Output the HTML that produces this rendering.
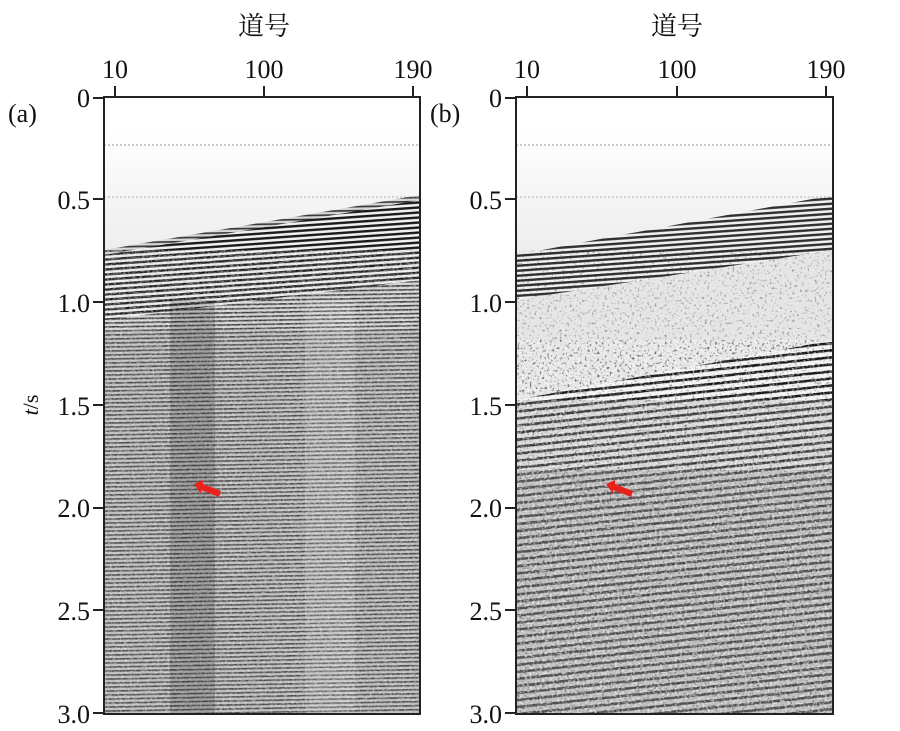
<!DOCTYPE html>
<html><head><meta charset="utf-8"><style>
body{margin:0;background:#fff;width:900px;height:731px;overflow:hidden}
svg{position:absolute;left:0;top:0}
text{font-family:"Liberation Serif","Noto Serif CJK SC",serif;fill:#111}
</style></head><body>
<svg width="900" height="731" viewBox="0 0 900 731">
<defs>
<linearGradient id="fade" x1="0" y1="0" x2="0" y2="1"><stop offset="0" stop-color="#fff"/><stop offset="1" stop-color="#ececec"/></linearGradient>
<pattern id="stA" width="12" height="5" patternUnits="userSpaceOnUse" patternTransform="rotate(-4)">
<rect width="12" height="5" fill="#f0f0f0"/><rect y="0" width="12" height="2.4" fill="#1a1a1a"/></pattern>
<pattern id="stB" width="10" height="4" patternUnits="userSpaceOnUse" patternTransform="rotate(-1)">
<rect width="10" height="4" fill="#d8d8d8"/><rect y="0" width="10" height="1.7" fill="#3a3a3a"/></pattern>
<pattern id="stC" width="9" height="7" patternUnits="userSpaceOnUse" patternTransform="rotate(-6)">
<rect width="9" height="7" fill="#f4f4f4"/><rect y="0" width="9" height="2.6" fill="#1a1a1a"/></pattern>
<filter id="nz" x="0" y="0" width="100%" height="100%">
<feTurbulence type="fractalNoise" baseFrequency="0.3 0.8" numOctaves="2" seed="3"/>
<feColorMatrix type="matrix" values="0 0 0 0 0.5 0 0 0 0 0.5 0 0 0 0 0.5 0 0 0 3 -1.3"/>
</filter>
<filter id="nzW" x="0" y="0" width="100%" height="100%">
<feTurbulence type="fractalNoise" baseFrequency="0.4 0.4" numOctaves="2" seed="7"/>
<feColorMatrix type="matrix" values="0 0 0 0 1 0 0 0 0 1 0 0 0 0 1 0 0 0 4 -1.9"/>
</filter>
<filter id="nzD" x="0" y="0" width="100%" height="100%">
<feTurbulence type="fractalNoise" baseFrequency="0.4 0.4" numOctaves="2" seed="11"/>
<feColorMatrix type="matrix" values="0 0 0 0 0 0 0 0 0 0 0 0 0 0 0 0 0 0 4 -2.3"/>
</filter>
<clipPath id="ca"><rect x="104" y="97" width="316" height="617"/></clipPath>
<clipPath id="cb"><rect x="516" y="97" width="317" height="617"/></clipPath>
</defs>

<!-- Panel A -->
<g clip-path="url(#ca)">
<rect x="104" y="97" width="316" height="617" fill="#fff"/>
<rect x="104" y="130" width="316" height="130" fill="url(#fade)"/>
<polygon points="104,250 420,195 420,714 104,714" fill="url(#stB)"/>
<polygon points="104,255 420,200 420,280 104,320" fill="url(#stA)"/>
<rect x="104" y="330" width="316" height="384" fill="#777" opacity="0.25"/>
<rect x="104" y="250" width="316" height="464" filter="url(#nzW)" opacity="0.35"/>
<rect x="104" y="250" width="316" height="464" filter="url(#nz)" opacity="0.5"/>
<rect x="170" y="300" width="45" height="414" fill="#222" opacity="0.2"/>
<rect x="305" y="300" width="50" height="414" fill="#fff" opacity="0.15"/>
<line x1="104" y1="145" x2="420" y2="145" stroke="#777" stroke-dasharray="2,2" stroke-width="0.8"/>
<line x1="104" y1="197" x2="420" y2="197" stroke="#999" stroke-dasharray="2,2" stroke-width="0.8"/>
</g>
<rect x="104" y="97" width="316" height="617" fill="none" stroke="#222" stroke-width="2"/>
<path d="M194,484 L203,480 L203,484 L221,491 L219,497 L201,490 L201,494 Z" fill="#e8231e"/>

<!-- Panel B -->
<g clip-path="url(#cb)">
<rect x="516" y="97" width="317" height="617" fill="#fff"/>
<rect x="516" y="130" width="317" height="130" fill="url(#fade)"/>
<polygon points="516,255 833,195 833,250 516,300" fill="url(#stA)" opacity="0.9"/>
<polygon points="516,300 833,250 833,360 516,400" fill="#e6e6e6"/>
<rect x="516" y="250" width="317" height="150" filter="url(#nzD)" opacity="0.35"/>
<polygon points="516,400 833,340 833,714 516,714" fill="url(#stC)"/>
<rect x="516" y="400" width="317" height="314" fill="#999" opacity="0.3"/>
<rect x="516" y="470" width="317" height="244" fill="#808080" opacity="0.3"/>
<rect x="516" y="340" width="317" height="374" filter="url(#nzW)" opacity="0.55"/>
<rect x="516" y="340" width="317" height="374" filter="url(#nzD)" opacity="0.4"/>
<line x1="516" y1="145" x2="833" y2="145" stroke="#777" stroke-dasharray="2,2" stroke-width="0.8"/>
<line x1="516" y1="197" x2="833" y2="197" stroke="#999" stroke-dasharray="2,2" stroke-width="0.8"/>
</g>
<rect x="516" y="97" width="317" height="617" fill="none" stroke="#222" stroke-width="2"/>
<path d="M606,484 L615,480 L615,484 L633,491 L631,497 L613,490 L613,494 Z" fill="#e8231e"/>

<!-- Axes text A -->
<g font-size="26">
<text x="264" y="35" text-anchor="middle" font-size="26">道号</text>
<text x="115" y="78" text-anchor="middle">10</text>
<text x="264" y="78" text-anchor="middle">100</text>
<text x="413" y="78" text-anchor="middle">190</text>
<text x="8" y="122">(a)</text>
<text x="90" y="107" text-anchor="end">0</text>
<text x="90" y="209" text-anchor="end">0.5</text>
<text x="90" y="312" text-anchor="end">1.0</text>
<text x="90" y="415" text-anchor="end">1.5</text>
<text x="90" y="517" text-anchor="end">2.0</text>
<text x="90" y="620" text-anchor="end">2.5</text>
<text x="90" y="723" text-anchor="end">3.0</text>
<text x="0" y="0" transform="translate(38,405) rotate(-90)" text-anchor="middle" font-size="22"><tspan font-style="italic">t</tspan>/s</text>
</g>
<g stroke="#222" stroke-width="2">
<line x1="115" y1="86" x2="115" y2="97"/><line x1="264" y1="86" x2="264" y2="97"/><line x1="413" y1="86" x2="413" y2="97"/>
<line x1="93" y1="98" x2="104" y2="98"/><line x1="93" y1="199" x2="104" y2="199"/><line x1="93" y1="302" x2="104" y2="302"/><line x1="93" y1="405" x2="104" y2="405"/><line x1="93" y1="508" x2="104" y2="508"/><line x1="93" y1="610" x2="104" y2="610"/><line x1="93" y1="713" x2="104" y2="713"/>
</g>

<!-- Axes text B -->
<g font-size="26">
<text x="677" y="35" text-anchor="middle">道号</text>
<text x="527" y="78" text-anchor="middle">10</text>
<text x="677" y="78" text-anchor="middle">100</text>
<text x="826" y="78" text-anchor="middle">190</text>
<text x="430" y="122">(b)</text>
<text x="502" y="107" text-anchor="end">0</text>
<text x="502" y="209" text-anchor="end">0.5</text>
<text x="502" y="312" text-anchor="end">1.0</text>
<text x="502" y="415" text-anchor="end">1.5</text>
<text x="502" y="517" text-anchor="end">2.0</text>
<text x="502" y="620" text-anchor="end">2.5</text>
<text x="502" y="723" text-anchor="end">3.0</text>
</g>
<g stroke="#222" stroke-width="2">
<line x1="527" y1="86" x2="527" y2="97"/><line x1="677" y1="86" x2="677" y2="97"/><line x1="826" y1="86" x2="826" y2="97"/>
<line x1="505" y1="98" x2="516" y2="98"/><line x1="505" y1="199" x2="516" y2="199"/><line x1="505" y1="302" x2="516" y2="302"/><line x1="505" y1="405" x2="516" y2="405"/><line x1="505" y1="508" x2="516" y2="508"/><line x1="505" y1="610" x2="516" y2="610"/><line x1="505" y1="713" x2="516" y2="713"/>
</g>
</svg>
</body></html>
